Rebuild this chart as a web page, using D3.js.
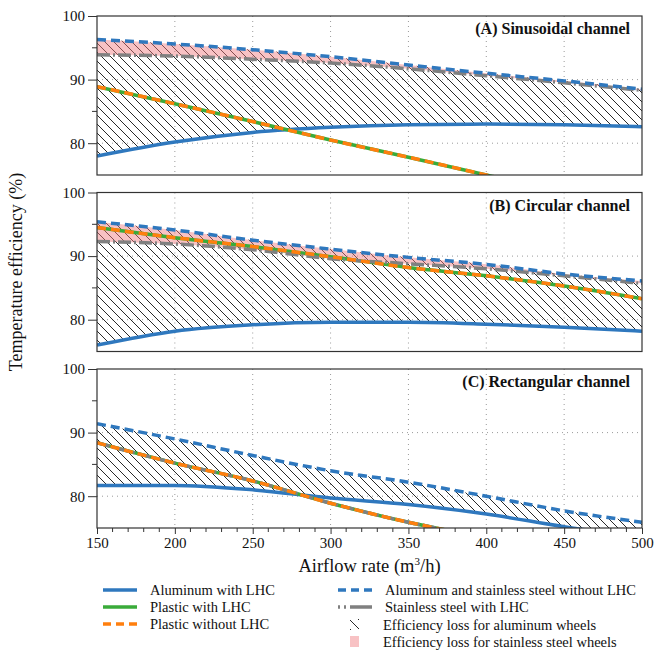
<!DOCTYPE html>
<html>
<head>
<meta charset="utf-8">
<script src="https://cdn.jsdelivr.net/npm/d3@7"></script>
<style>
  body { margin: 0; background: #fff; }
  text { font-family: "Liberation Serif", "Times New Roman", serif; }
</style>
</head>
<body>
<svg id="chart"></svg>
<script>
// airflow rate (m3/h)
const airflow = [150, 200, 250, 300, 350, 400, 450, 500];
const panelTitles = ['(A) Sinusoidal channel', '(B) Circular channel', '(C) Rectangular channel'];
const yTicks = [80, 90, 100];

// (A) sinusoidal
const aluNoLhcA = [96.3, 95.6, 94.7, 93.6, 92.3, 91.0, 89.8, 88.5];
const ssLhcA = [93.9, 93.7, 93.2, 92.6, 91.7, 90.6, 89.5, 88.3];
const aluLhcA = [78.0, 80.2, 81.7, 82.5, 82.9, 83.0, 82.9, 82.6];
const plasticLhcA = [88.9, 86.2, 83.4, 80.5, 77.8, 75.0, 72.2, 69.5];
const plasticNoLhcA = [88.9, 86.2, 83.4, 80.5, 77.8, 75.0, 72.2, 69.5];

// (B) circular
const aluNoLhcB = [95.4, 94.1, 92.5, 91.1, 89.8, 88.7, 87.2, 86.1];
const ssLhcB = [92.3, 91.9, 91.0, 89.6, 88.8, 88.0, 86.9, 85.7];
const aluLhcB = [76.0, 78.2, 79.2, 79.6, 79.6, 79.3, 78.8, 78.2];
const plasticLhcB = [94.5, 92.9, 91.5, 89.9, 88.2, 86.9, 85.3, 83.3];
const plasticNoLhcB = [94.5, 92.9, 91.5, 89.9, 88.2, 86.9, 85.3, 83.3];

// (C) rectangular
const aluNoLhcC = [91.4, 89.0, 86.4, 84.0, 82.2, 80.0, 77.7, 75.9];
const ssLhcC = [88.4, 85.2, 82.4, 78.9, 75.9, 73.5, 71.5, 69.5];
const aluLhcC = [81.7, 81.7, 81.0, 79.7, 78.7, 77.2, 75.2, 73.5];
const plasticLhcC = [88.4, 85.2, 82.4, 78.9, 75.9, 73.5, 71.5, 69.5];
const plasticNoLhcC = [88.4, 85.2, 82.4, 78.9, 75.9, 73.5, 71.5, 69.5];

const panels = [
    { title: panelTitles[0], aluNo: aluNoLhcA, ss: ssLhcA, alu: aluLhcA, pl: plasticLhcA, plNo: plasticNoLhcA, pink: true },
    { title: panelTitles[1], aluNo: aluNoLhcB, ss: ssLhcB, alu: aluLhcB, pl: plasticLhcB, plNo: plasticNoLhcB, pink: true },
    { title: panelTitles[2], aluNo: aluNoLhcC, ss: ssLhcC, alu: aluLhcC, pl: plasticLhcC, plNo: plasticNoLhcC, pink: false }
];

const colors = {
    blue: '#2f78be',
    green: '#3aab3a',
    orange: '#ff7f0e',
    gray: '#808080',
    pink: 'rgba(240, 120, 125, 0.45)'
};

const width = 654, height = 651;
const margin = { left: 97, right: 12 };
const panelTops = [16, 192.5, 369];
const panelH = 159;

const svg = d3.select('#chart').attr('width', width).attr('height', height);

const defs = svg.append('defs');
const hatch = defs.append('pattern')
    .attr('id', 'hatch')
    .attr('patternUnits', 'userSpaceOnUse')
    .attr('width', 9)
    .attr('height', 9);
hatch.append('path')
    .attr('d', 'M0,0 L9,9 M-1,8 L1,10 M8,-1 L10,1')
    .attr('stroke', '#111')
    .attr('stroke-width', 0.9);

const x = d3.scaleLinear().domain([150, 500]).range([margin.left, width - margin.right]);

panels.forEach((p, i) => {
    const top = panelTops[i];
    const y = d3.scaleLinear().domain([75, 100]).range([top + panelH, top]);
    const g = svg.append('g');

    defs.append('clipPath').attr('id', 'clip' + i)
        .append('rect')
        .attr('x', x(150)).attr('y', top)
        .attr('width', x(500) - x(150)).attr('height', panelH);

    // grid
    g.selectAll('.vgrid')
        .data([200, 250, 300, 350, 400, 450])
        .join('line')
        .attr('x1', d => x(d)).attr('x2', d => x(d))
        .attr('y1', top).attr('y2', top + panelH)
        .attr('stroke', '#9a9a9a').attr('stroke-width', 1)
        .attr('stroke-dasharray', '1,4');
    g.selectAll('.hgrid')
        .data([80, 90])
        .join('line')
        .attr('x1', x(150)).attr('x2', x(500))
        .attr('y1', d => y(d)).attr('y2', d => y(d))
        .attr('stroke', '#9a9a9a').attr('stroke-width', 1)
        .attr('stroke-dasharray', '1,4');

    const pts = key => airflow.map((a, j) => ({ x: a, v: p[key][j] }));
    const band = (hiKey, loKey) => airflow.map((a, j) => ({ x: a, hi: p[hiKey][j], lo: p[loKey][j] }));

    const area = d3.area()
        .x(d => x(d.x)).y0(d => y(d.lo)).y1(d => y(d.hi))
        .curve(d3.curveMonotoneX);
    const line = d3.line()
        .x(d => x(d.x)).y(d => y(d.v))
        .curve(d3.curveMonotoneX);

    const plot = g.append('g').attr('clip-path', `url(#clip${i})`);

    // efficiency loss for aluminum wheels
    plot.append('path')
        .datum(band('aluNo', 'alu'))
        .attr('d', area)
        .attr('fill', 'url(#hatch)');

    // efficiency loss for stainless steel wheels
    if (p.pink) {
        plot.append('path')
            .datum(band('aluNo', 'ss'))
            .attr('d', area)
            .attr('fill', colors.pink);
    }

    plot.append('path').datum(pts('alu')).attr('d', line)
        .attr('fill', 'none').attr('stroke', colors.blue).attr('stroke-width', 3.5);
    plot.append('path').datum(pts('pl')).attr('d', line)
        .attr('fill', 'none').attr('stroke', colors.green).attr('stroke-width', 3.5);
    plot.append('path').datum(pts('ss')).attr('d', line)
        .attr('fill', 'none').attr('stroke', colors.gray).attr('stroke-width', 3.5)
        .attr('stroke-dasharray', '13,3,2,3');
    plot.append('path').datum(pts('plNo')).attr('d', line)
        .attr('fill', 'none').attr('stroke', colors.orange).attr('stroke-width', 3.5)
        .attr('stroke-dasharray', '9,5');
    plot.append('path').datum(pts('aluNo')).attr('d', line)
        .attr('fill', 'none').attr('stroke', colors.blue).attr('stroke-width', 3.5)
        .attr('stroke-dasharray', '9,5');

    // frame
    g.append('rect')
        .attr('x', x(150)).attr('y', top)
        .attr('width', x(500) - x(150)).attr('height', panelH)
        .attr('fill', 'none').attr('stroke', '#333').attr('stroke-width', 1.2);

    // y axis
    const yAxis = d3.axisLeft(y).tickValues(yTicks).tickSize(9).tickFormat(d3.format('d'));
    const ya = g.append('g').attr('transform', `translate(${x(150)},0)`).call(yAxis);
    ya.select('.domain').remove();
    ya.selectAll('line').attr('stroke', '#333');
    ya.selectAll('text').attr('font-size', 15).attr('fill', '#111')
        .style('font-family', '"Liberation Serif", serif');
    g.selectAll('.minorY')
        .data([85, 95])
        .join('line')
        .attr('x1', x(150) - 5).attr('x2', x(150))
        .attr('y1', d => y(d)).attr('y2', d => y(d))
        .attr('stroke', '#333');

    // title
    g.append('text')
        .attr('x', x(500) - 12).attr('y', top + 18)
        .attr('text-anchor', 'end')
        .attr('font-size', 16).attr('font-weight', 'bold')
        .attr('fill', '#111')
        .text(p.title);

    // x axis on bottom panel
    if (i === 2) {
        const xAxis = d3.axisBottom(x).tickValues(d3.range(150, 501, 50)).tickSize(6).tickFormat(d3.format('d'));
        const xa = g.append('g').attr('transform', `translate(0,${top + panelH})`).call(xAxis);
        xa.select('.domain').remove();
        xa.selectAll('line').attr('stroke', '#333');
        xa.selectAll('text').attr('font-size', 15).attr('fill', '#111')
            .style('font-family', '"Liberation Serif", serif');
        g.selectAll('.minorX')
            .data(d3.range(160, 500, 10).filter(d => d % 50 !== 0))
            .join('line')
            .attr('x1', d => x(d)).attr('x2', d => x(d))
            .attr('y1', top + panelH).attr('y2', top + panelH + 4)
            .attr('stroke', '#333');
    }
});

// axis titles
svg.append('text')
    .attr('transform', `translate(22,${(panelTops[0] + panelTops[2] + panelH) / 2}) rotate(-90)`)
    .attr('text-anchor', 'middle')
    .attr('font-size', 18).attr('fill', '#111')
    .text('Temperature efficiency (%)');

const xt = svg.append('text')
    .attr('x', (x(150) + x(500)) / 2).attr('y', 572)
    .attr('text-anchor', 'middle')
    .attr('font-size', 18.5).attr('fill', '#111');
xt.append('tspan').text('Airflow rate (m');
xt.append('tspan').attr('font-size', 11).attr('dy', -7).text('3');
xt.append('tspan').attr('dy', 7).text('/h)');

// legend
const legendItems = [
    { label: 'Aluminum with LHC', type: 'line', color: colors.blue, dash: null, x: 103, y: 590 },
    { label: 'Plastic with LHC', type: 'line', color: colors.green, dash: null, x: 103, y: 607 },
    { label: 'Plastic without LHC', type: 'line', color: colors.orange, dash: '8,5', x: 103, y: 624 },
    { label: 'Aluminum and stainless steel without LHC', type: 'line', color: colors.blue, dash: '8,5', x: 338, y: 590 },
    { label: 'Stainless steel with LHC', type: 'line', color: colors.gray, dash: '2,4,2,4,22', x: 338, y: 607 },
    { label: 'Efficiency loss for aluminum wheels', type: 'hatch', x: 338, y: 625 },
    { label: 'Efficiency loss for stainless steel wheels', type: 'pink', x: 338, y: 642 }
];

const legend = svg.append('g');
legendItems.forEach(d => {
    if (d.type === 'line') {
        legend.append('line')
            .attr('x1', d.x).attr('x2', d.x + 34)
            .attr('y1', d.y).attr('y2', d.y)
            .attr('stroke', d.color).attr('stroke-width', 3.5)
            .attr('stroke-dasharray', d.dash);
        legend.append('text')
            .attr('x', d.x + 47).attr('y', d.y + 5)
            .attr('font-size', 14.5).attr('fill', '#111')
            .text(d.label);
    } else {
        const box = legend.append('rect')
            .attr('x', d.x + 12).attr('y', d.y - 6)
            .attr('width', 9).attr('height', 11);
        if (d.type === 'hatch') {
            box.attr('fill', 'url(#hatch)');
        } else {
            box.attr('fill', colors.pink);
        }
        legend.append('text')
            .attr('x', d.x + 45).attr('y', d.y + 5)
            .attr('font-size', 14.5).attr('fill', '#111')
            .text(d.label);
    }
});
</script>
</body>
</html>
